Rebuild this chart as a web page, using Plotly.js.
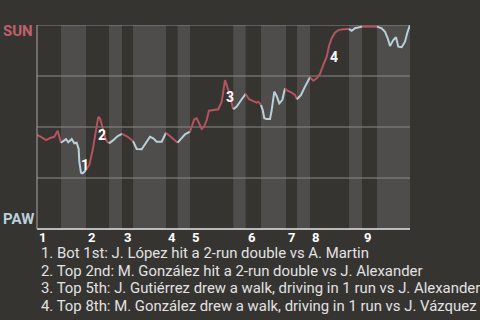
<!DOCTYPE html>
<html>
<head>
<meta charset="utf-8">
<script src="https://cdn.plot.ly/plotly-3.0.1.min.js"></script>
<style>
  html, body { margin: 0; padding: 0; background: #363431; }
  #chart { width: 480px; height: 320px; }
</style>
</head>
<body>
<div id="chart"></div>
<script>
// Game progress (0-100) and SUN win probability (0-1)
const wpX = [0, 1.07, 2.41, 3.49, 4.64, 5.55, 6.43,
  7.77, 8.39, 9.30, 10.0, 10.64, 11.18, 11.34, 11.80, 12.25, 13.14,
  14.02, 14.93, 15.82, 16.43, 16.89, 17.61, 18.50, 19.30,
  20.29, 21.64, 22.79,
  24.32, 25.74,
  26.73, 28.07, 28.95, 30.29, 31.18, 32.09, 33.43, 34.58,
  35.66, 36.73, 37.72,
  38.79, 39.68, 41.02,
  41.47, 42.17, 42.82, 43.43, 44.16, 44.77, 45.50, 46.11, 47.27, 48.61, 49.52, 50.40, 51.29, 52.20, 52.63,
  53.54, 54.88, 55.95,
  56.84, 57.99, 58.90, 59.33, 60.05,
  60.51, 60.94, 61.58, 62.47, 62.92, 63.62, 64.26, 64.96, 65.76, 66.49,
  66.94, 68.28, 69.17, 69.71,
  70.78, 71.85, 73.19,
  74.08, 74.99, 75.87, 76.76, 77.67, 78.36, 79.01, 79.89, 80.78, 82.12, 83.65,
  84.37, 85.25, 86.60, 87.13,
  88.39, 90.16, 91.15,
  92.41, 93.30, 94.02, 94.64, 95.52, 96.25, 96.86, 97.77, 98.66, 99.28, 100];
const wpY = [0.461, 0.452, 0.436, 0.446, 0.452, 0.482, 0.423,
  0.440, 0.425, 0.441, 0.420, 0.423, 0.391, 0.330, 0.276, 0.273, 0.289,
  0.314, 0.387, 0.485, 0.550, 0.543, 0.494, 0.436, 0.420,
  0.433, 0.456, 0.466,
  0.452, 0.431,
  0.392, 0.391, 0.417, 0.452, 0.445, 0.428, 0.428, 0.472,
  0.456, 0.436, 0.423,
  0.445, 0.464, 0.477,
  0.501, 0.538, 0.543, 0.518, 0.490, 0.501, 0.534, 0.580, 0.583, 0.587, 0.624, 0.730, 0.681, 0.608, 0.587,
  0.600, 0.636, 0.662,
  0.636, 0.627, 0.619, 0.624, 0.608,
  0.583, 0.543, 0.539, 0.539, 0.583, 0.673, 0.652, 0.616, 0.632, 0.690,
  0.681, 0.668, 0.657, 0.636,
  0.657, 0.698, 0.744,
  0.727, 0.739, 0.760, 0.804, 0.845, 0.902, 0.935, 0.962, 0.975, 0.979, 0.980,
  0.972, 0.984, 0.989, 0.992,
  0.992, 0.992, 0.992,
  0.984, 0.967, 0.935, 0.897, 0.926, 0.940, 0.894, 0.891, 0.918, 0.962, 1.0];

// Half-inning boundaries (game progress)
const innings = ['1', '2', '3', '4', '5', '6', '7', '8', '9'];
const topStart = [0, 13.14, 22.79, 34.58, 41.02, 55.95, 66.76, 73.19, 87.13];
const botStart = [6.43, 19.30, 25.74, 37.72, 52.63, 60.05, 69.71, 83.65, 91.15];
const gameEnd = 100;

// Key events
const eventLabels = ['1', '2', '3', '4'];
const eventX = [12.87, 17.43, 51.74, 79.62];
const eventY = [0.314, 0.461, 0.649, 0.845];
const eventText = [
  '1. Bot 1st: J. López hit a 2-run double vs A. Martin',
  '2. Top 2nd: M. González hit a 2-run double vs J. Alexander',
  '3. Top 5th: J. Gutiérrez drew a walk, driving in 1 run vs J. Alexander',
  '4. Top 8th: M. González drew a walk, driving in 1 run vs J. Vázquez'
];
const teams = ['SUN', 'PAW'];

const RED = '#b3545e';
const BLUE = '#b9d0db';
const BG = '#363431';
const STRIPE = '#4e4d4b';
const GRID = '#8c8a87';

// Build half-inning bounds list
const halves = [];
for (let i = 0; i < innings.length; i++) {
  halves.push({ start: topStart[i], end: botStart[i], color: RED });
  halves.push({ start: botStart[i], end: (i + 1 < innings.length ? topStart[i + 1] : gameEnd), color: BLUE });
}

const traces = [];
halves.forEach((h, hi) => {
  const xs = [], ys = [];
  for (let k = 0; k < wpX.length; k++) {
    const inside = hi === 0 ? (wpX[k] >= h.start && wpX[k] <= h.end) : (wpX[k] > h.start && wpX[k] <= h.end);
    if (inside) {
      if (xs.length === 0 && k > 0) { xs.push(wpX[k - 1]); ys.push(wpY[k - 1]); }
      xs.push(wpX[k]); ys.push(wpY[k]);
    }
  }
  traces.push({
    x: xs, y: ys, type: 'scatter', mode: 'lines',
    line: { color: h.color, width: 2 },
    hoverinfo: 'skip', showlegend: false
  });
});

const shapes = [];
for (let i = 0; i < innings.length; i++) {
  shapes.push({
    type: 'rect', xref: 'x', yref: 'paper', layer: 'below',
    x0: botStart[i], x1: (i + 1 < innings.length ? topStart[i + 1] : gameEnd), y0: 0, y1: 1,
    fillcolor: STRIPE, line: { width: 0 }
  });
}
[0.25, 0.5, 0.75, 1].forEach(v => {
  shapes.push({ type: 'line', xref: 'paper', yref: 'y', layer: 'below',
    x0: 0, x1: 1, y0: v, y1: v, line: { color: GRID, width: 1 } });
});
shapes.push({ type: 'line', xref: 'paper', yref: 'paper', layer: 'above',
  x0: 0, x1: 1, y0: 0, y1: 0, line: { color: '#e6e6e6', width: 1.5 } });
shapes.push({ type: 'line', xref: 'paper', yref: 'paper', layer: 'above',
  x0: 0, x1: 0, y0: 0, y1: 1, line: { color: '#a9a8a5', width: 1 } });

const annotations = [];
innings.forEach((lab, i) => {
  annotations.push({
    text: lab, xref: 'x', yref: 'paper', x: topStart[i], y: -0.044,
    xanchor: 'left', yanchor: 'middle', showarrow: false,
    font: { family: 'Roboto', size: 13, color: '#ffffff', weight: 'bold' }
  });
});
eventLabels.forEach((lab, i) => {
  annotations.push({
    text: '<b>' + lab + '</b>', xref: 'x', yref: 'y', x: eventX[i], y: eventY[i],
    xanchor: 'center', yanchor: 'middle', showarrow: false,
    font: { family: 'Roboto', size: 14, color: '#ffffff' }
  });
});
const noteY = [-0.118, -0.206, -0.291, -0.377];
eventText.forEach((t, i) => {
  annotations.push({
    text: t, xref: 'paper', yref: 'paper', x: 0.005, y: noteY[i],
    xanchor: 'left', yanchor: 'middle', showarrow: false,
    font: { family: 'Roboto', size: 14.9, color: '#e2e2e2' }
  });
});
annotations.push({
  text: '<b>' + teams[0] + '</b>', xref: 'paper', yref: 'paper', x: -0.096, y: 0.973,
  xanchor: 'left', yanchor: 'middle', showarrow: false,
  font: { family: 'Roboto', size: 15, color: '#c0606a' }
});
annotations.push({
  text: '<b>' + teams[1] + '</b>', xref: 'paper', yref: 'paper', x: -0.096, y: 0.049,
  xanchor: 'left', yanchor: 'middle', showarrow: false,
  font: { family: 'Roboto', size: 15, color: '#b9d0db' }
});

const layout = {
  width: 480, height: 320,
  margin: { l: 37, r: 70, t: 25, b: 91 },
  paper_bgcolor: BG, plot_bgcolor: BG,
  xaxis: { range: [0, gameEnd], showgrid: false, zeroline: false, showticklabels: false, showline: false, fixedrange: true },
  yaxis: { range: [0, 1], showgrid: false, zeroline: false, showticklabels: false, showline: false, fixedrange: true },
  shapes: shapes,
  annotations: annotations,
  showlegend: false
};

Plotly.newPlot('chart', traces, layout, { displayModeBar: false, staticPlot: true });
</script>
</body>
</html>
